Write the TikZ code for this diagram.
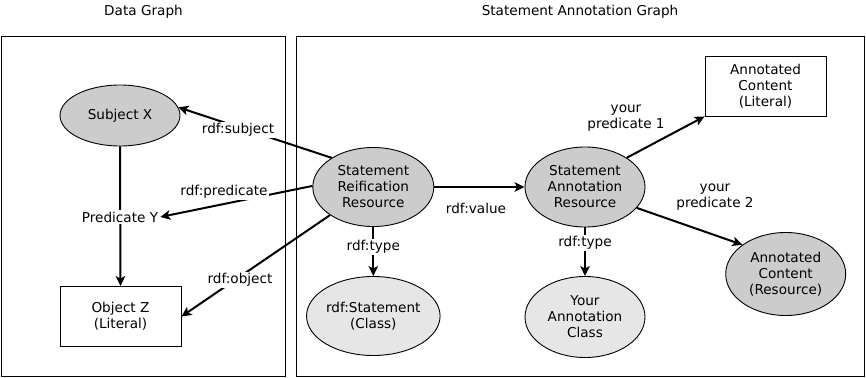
\documentclass[tikz,border=0pt]{standalone}
\usepackage{fontspec}
\setmainfont{DejaVu Sans}
\usetikzlibrary{shapes.geometric,arrows.meta}
\definecolor{darkfill}{HTML}{CCCCCC}
\definecolor{lightfill}{HTML}{E6E6E6}
\begin{document}
\begin{tikzpicture}[x=1pt,y=-1pt,
  every node/.style={font=\fontsize{13.6}{16}\selectfont, align=center},
  frame/.style={draw=black, line width=0.9pt},
  ell/.style={ellipse, draw=black, line width=0.9pt, inner sep=0pt, minimum width=120pt},
  dark/.style={ell, fill=darkfill},
  light/.style={ell, fill=lightfill},
  rectbox/.style={rectangle, draw=black, line width=0.9pt, fill=white, minimum width=121pt, minimum height=60pt, inner sep=0pt},
  edge/.style={line width=2pt, -{Stealth[length=10pt,width=9.5pt,inset=2.5pt]}},
  lbl/.style={fill=white, inner sep=1pt}
]
\useasboundingbox (0,0) rectangle (866,377);
% titles
\node (t1) at (143.5,12) {Data Graph};
\node (t2) at (580,12) {Statement Annotation Graph};
% frames
\draw[frame] (1,36) rectangle (285,376);
\draw[frame] (296,36) rectangle (864,376);
% nodes
\node[dark, minimum height=61pt] (subj) at (120,115.5) {Subject X};
\node[rectbox] (objz) at (120.5,316.5) {Object Z\\(Literal)};
\node[dark, minimum height=79pt, minimum width=121pt] (srr) at (373.3,187) {Statement\\Reification\\Resource};
\node[light, minimum height=79pt] (stmt) at (373.3,316) {rdf:Statement\\(Class)};
\node[dark, minimum height=80pt] (sar) at (585,187) {Statement\\Annotation\\Resource};
\node[light, minimum height=81pt] (yac) at (585,317) {Your\\Annotation\\Class};
\node[rectbox] (acl) at (765.5,86) {Annotated\\Content\\(Literal)};
\node[dark, minimum height=83pt] (acr) at (785.7,274) {Annotated\\Content\\(Resource)};
% edges
\draw[edge] (subj.south) -- (objz.north);
\node[lbl, inner sep=2pt] (predy) at (120,217) {Predicate Y};
\draw[edge] (srr.145) -- (subj.8);
\draw[edge] (srr.179) -- (predy.east);
\draw[edge] (srr.213.5) -- (objz.east);
\draw[edge] (srr.east) -- (sar.west);
\draw[edge] (srr.south) -- (stmt.north);
\draw[edge] (sar.south) -- (yac.north);
\draw[edge] (sar.35) -- (acl.south west);
\draw[edge] (sar.-22.7) -- (acr.146.7);
% edge labels
\node[lbl] (l1) at (238,130) {rdf:subject};
\node[lbl] (l2) at (224,192) {rdf:predicate};
\node[lbl] (l3) at (240,280) {rdf:object};
\node[lbl] (l4) at (373.3,247) {rdf:type};
\node[lbl] (l5) at (476,208) {rdf:value};
\node[lbl] (l6) at (585,243) {rdf:type};
\node (l7) at (626,118) {your\\predicate 1};
\node (l8) at (715,197) {your\\predicate 2};
\end{tikzpicture}
\end{document}
